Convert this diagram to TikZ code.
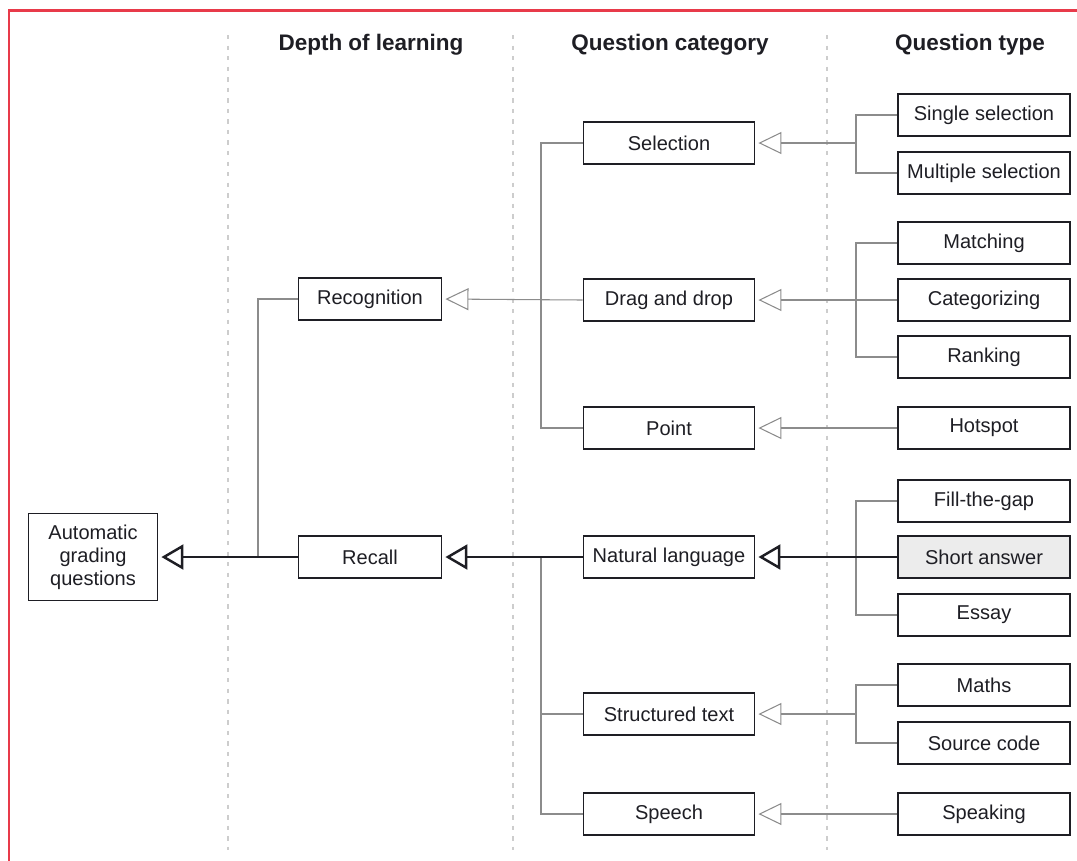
\documentclass[tikz,border=0pt]{standalone}
\usepackage{fontspec}
\setmainfont{Liberation Sans}
\usetikzlibrary{arrows.meta}
\definecolor{framered}{RGB}{232,58,74}
\definecolor{linkgray}{RGB}{140,140,140}
\definecolor{guidegray}{RGB}{205,205,205}
\definecolor{ink}{RGB}{30,30,36}
\definecolor{shade}{RGB}{236,236,236}
\tikzset{
  box/.style={draw=ink, line width=1.1pt, fill=white, minimum height=0.84cm,
    inner sep=0pt, text=ink, font=\fontsize{11.4}{13.2}\selectfont},
  depthbox/.style={box, minimum width=2.86cm},
  catbox/.style={box, minimum width=3.42cm},
  typebox/.style={box, minimum width=3.44cm},
  header/.style={text=ink, font=\bfseries\fontsize{12.8}{15}\selectfont},
  guide/.style={draw=guidegray, line width=0.6pt, dash pattern=on 2.5pt off 3.5pt},
  link/.style={draw=linkgray, line width=0.6pt},
  mainlink/.style={draw=ink, line width=1.4pt},
  linkhead/.style={link, -{Triangle[open, length=0.46cm, width=0.44cm]}, shorten >=1.7pt},
  mainhead/.style={mainlink, -{Triangle[open, length=0.44cm, width=0.5cm]}, shorten >=1.7pt}
}
\begin{document}
\begin{tikzpicture}[x=0.02cm, y=-0.02cm]
\useasboundingbox (0,0) rectangle (1077,860);

% page frame
\draw[framered, line width=1.7pt] (9,862) -- (9,10) -- (1080,10);

% column guides
\draw[guide] (228,35) -- (228,850);
\draw[guide] (513,35) -- (513,850);
\draw[guide] (827,35) -- (827,850);

% column headers
\node[header] (hDepth) at (371,45) {Depth of learning};
\node[header] (hCat)   at (670,45) {Question category};
\node[header] (hType)  at (970,45) {Question type};

% root
\node[box, minimum width=2.58cm, minimum height=1.74cm, align=center,
      font=\fontsize{11.4}{13}\selectfont] (root) at (93,557)
      {Automatic\\grading\\questions};

% depth of learning
\node[depthbox] (recog)  at (370,299) {Recognition};
\node[depthbox] (recall) at (370,557) {Recall};

% question categories
\node[catbox] (sel)    at (669,143) {Selection};
\node[catbox] (drag)   at (669,300) {Drag and drop};
\node[catbox] (point)  at (669,428) {Point};
\node[catbox] (nat)    at (669,557) {Natural language};
\node[catbox] (struct) at (669,714) {Structured text};
\node[catbox] (speech) at (669,814) {Speech};

% question types
\node[typebox] (single) at (984,115) {Single selection};
\node[typebox] (multi)  at (984,173) {Multiple selection};
\node[typebox] (match)  at (984,243) {Matching};
\node[typebox] (categ)  at (984,300) {Categorizing};
\node[typebox] (rank)   at (984,357) {Ranking};
\node[typebox] (hot)    at (984,428) {Hotspot};
\node[typebox] (fill)   at (984,501) {Fill-the-gap};
\node[typebox, fill=shade] (short) at (984,557) {Short answer};
\node[typebox] (essay)  at (984,615) {Essay};
\node[typebox] (maths)  at (984,685) {Maths};
\node[typebox] (source) at (984,743) {Source code};
\node[typebox] (speak)  at (984,814) {Speaking};

% junction points
\coordinate (jSel)    at (856,143);
\coordinate (jDrag)   at (856,300);
\coordinate (jNat)    at (856,557);
\coordinate (jStruct) at (856,714);
\coordinate (jRecog)  at (541,300);
\coordinate (jRecall) at (541,557);
\coordinate (jRoot)   at (258,557);

% types -> categories
\draw[link] (single.west) -| (jSel) |- (multi.west);
\draw[linkhead] (jSel) -- (sel.east);
\draw[link] (match.west) -| (jDrag) |- (rank.west);
\draw[linkhead] (categ.west) -- (drag.east);
\draw[linkhead] (hot.west) -- (point.east);
\draw[link] (fill.west) -| (jNat) |- (essay.west);
\draw[mainhead] (short.west) -- (nat.east);
\draw[link] (maths.west) -| (jStruct) |- (source.west);
\draw[linkhead] (jStruct) -- (struct.east);
\draw[linkhead] (speak.west) -- (speech.east);

% categories -> depth of learning
\draw[link] (sel.west) -| (jRecog) |- (point.west);
\draw[linkhead] (drag.west) -- (recog.east);
\draw[link] (jRecall) |- (speech.west);
\draw[link] (struct.west) -- (struct.west -| jRecall);
\draw[mainhead] (nat.west) -- (recall.east);

% depth of learning -> root
\draw[link] (recog.west) -| (jRoot);
\draw[mainhead] (recall.west) -- (root.east);
\end{tikzpicture}
\end{document}
